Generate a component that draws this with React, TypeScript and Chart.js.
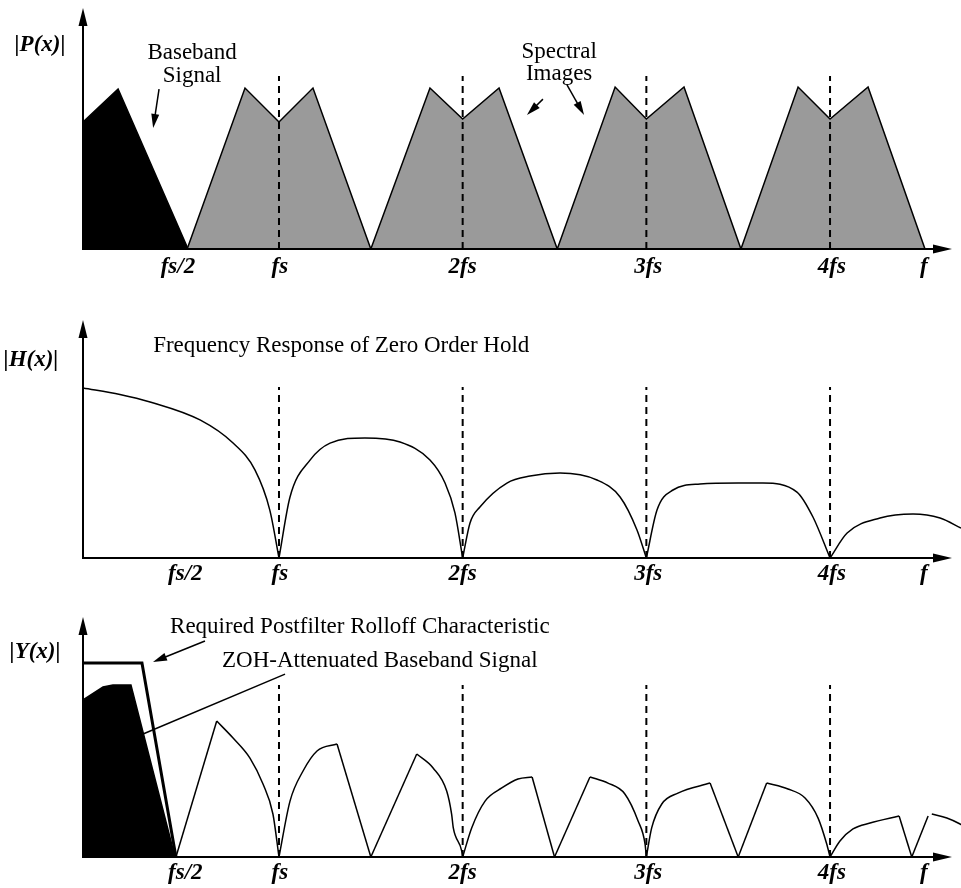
import React, { useEffect, useRef } from 'react';
import { Chart, registerables } from 'chart.js';
Chart.register(...registerables);

type P = [number, number];

// ---------- shared axis data (x in units of fs) ----------
const X_MIN = -0.067;
const X_MAX = 4.713;
const ARROW_X = 4.664;
const HARMONICS = [1, 2, 3, 4];
const TICK_LABELS = ['fs/2', 'fs', '2fs', '3fs', '4fs', 'f'];
const TICK_X_TOP = [0.45, 1.005, 2.0, 3.01, 4.01, 4.51];
const TICK_X = [0.49, 1.005, 2.0, 3.01, 4.01, 4.51];

// ---------- panel 1 : |P(x)| ----------
const P_BASEBAND: P[] = [[-0.067, 0.747], [0.124, 0.941], [0.505, 0]];
const P_IMAGES: P[] = [
  [0.5, 0], [0.815, 0.947], [1.0, 0.747], [1.185, 0.947], [1.5, 0],
  [1.822, 0.947], [2.0, 0.765], [2.198, 0.947], [2.515, 0],
  [2.83, 0.953], [3.0, 0.765], [3.205, 0.953], [3.515, 0],
  [3.826, 0.953], [4.0, 0.765], [4.207, 0.953], [4.517, 0],
];
const P_DASH_TOP = 1.018;

// ---------- panel 2 : |H(x)| ----------
const H_LOBE_0: P[] = [[-0.067, 1.0], [0.134, 0.962], [0.298, 0.918], [0.57, 0.812], [0.75, 0.676], [0.869, 0.518], [0.95, 0.282], [1.0, 0]];
const H_LOBE_1: P[] = [[1.0, 0], [1.06, 0.359], [1.169, 0.576], [1.278, 0.676], [1.468, 0.706], [1.659, 0.682], [1.822, 0.576], [1.904, 0.441], [1.958, 0.265], [2.0, 0]];
const H_LOBE_2: P[] = [[2.0, 0], [2.04, 0.206], [2.094, 0.3], [2.241, 0.441], [2.367, 0.482], [2.53, 0.5], [2.731, 0.459], [2.857, 0.359], [2.949, 0.165], [3.0, 0]];
const H_LOBE_3: P[] = [[3.0, 0], [3.058, 0.282], [3.145, 0.4], [3.292, 0.435], [3.5, 0.441], [3.635, 0.441], [3.82, 0.388], [3.907, 0.241], [4.0, 0]];
const H_LOBE_4: P[] = [[4.0, 0], [4.093, 0.147], [4.272, 0.235], [4.452, 0.259], [4.599, 0.235], [4.713, 0.176], [4.8, 0.13]];
const H_DASH_TOP = 1.006;

// ---------- panel 3 : |Y(x)| ----------
const Y_POSTFILTER: P[] = [[-0.067, 1.141], [0.254, 1.141], [0.439, 0]];
const Y_BASEBAND: P[] = [[-0.067, 0.924], [0.042, 1.0], [0.096, 1.012], [0.194, 1.012], [0.434, 0]];
const Y_RAMPS: P[][] = [
  [[0.439, 0], [0.661, 0.8]],
  [[1.316, 0.665], [1.5, 0]],
  [[1.5, 0], [1.75, 0.606]],
  [[2.378, 0.471], [2.5, 0]],
  [[2.5, 0], [2.693, 0.471]],
  [[3.347, 0.435], [3.5, 0]],
  [[3.5, 0], [3.655, 0.435]],
  [[4.376, 0.241], [4.445, 0]],
  [[4.445, 0], [4.534, 0.241]],
];
const Y_CURVES: P[][] = [
  [[0.661, 0.8], [0.75, 0.7], [0.842, 0.582], [0.913, 0.429], [0.967, 0.253], [1.0, 0]],
  [[1.0, 0], [1.06, 0.329], [1.131, 0.506], [1.207, 0.624], [1.316, 0.665]],
  [[1.75, 0.606], [1.839, 0.524], [1.913, 0.388], [1.94, 0.251], [1.949, 0.171], [1.995, 0.035], [2.0, 0]],
  [[2.0, 0], [2.049, 0.171], [2.122, 0.329], [2.213, 0.406], [2.301, 0.459], [2.378, 0.471]],
  [[2.693, 0.471], [2.791, 0.435], [2.883, 0.371], [2.955, 0.212], [2.993, 0.076], [3.0, 0]],
  [[3.0, 0], [3.029, 0.171], [3.084, 0.312], [3.172, 0.376], [3.347, 0.435]],
  [[3.655, 0.435], [3.771, 0.4], [3.864, 0.347], [3.935, 0.229], [3.982, 0.076], [4.0, 0]],
  [[4.0, 0], [4.054, 0.094], [4.125, 0.165], [4.218, 0.2], [4.376, 0.241]],
  [[4.554, 0.253], [4.636, 0.229], [4.708, 0.194], [4.76, 0.16]],
];
const Y_DASH_TOP = 1.012;

// ---------- styling ----------
const SERIF = '"Liberation Serif", "Times New Roman", serif';
const F_LABEL = `bold italic 23px ${SERIF}`;
const F_TEXT = `23px ${SERIF}`;

type Txt = { t: string; x: number; y: number; font: string; align: CanvasTextAlign };
type Arr = { x1: number; y1: number; x2: number; y2: number; head: boolean };
type PanelCfg = {
  height: number; padTop: number; padBottom: number; yMax: number;
  tickX: number[]; tickOffset: number; texts: Txt[]; arrows: Arr[];
  datasets: any[];
};

const pts = (p: P[]) => p.map(([x, y]) => ({ x, y }));
const line = (p: P[], o: any = {}) => ({
  data: pts(p), pointRadius: 0, borderColor: '#000', borderWidth: 1.5,
  fill: false, tension: 0, order: 2, ...o,
});
const dashed = (top: number) => HARMONICS.map((h) =>
  line([[h, 0], [h, top]], { borderDash: [7, 5], borderWidth: 2, order: 0 }));

const annotPlugin = (cfg: PanelCfg) => ({
  id: 'annot',
  afterDatasetsDraw(chart: any) {
    const ctx: CanvasRenderingContext2D = chart.ctx;
    const xs = chart.scales.x, ys = chart.scales.y;
    const { left, top } = chart.chartArea;
    const y0 = ys.getPixelForValue(0);
    ctx.save();
    ctx.strokeStyle = '#000'; ctx.fillStyle = '#000';
    // axes with arrows
    ctx.lineWidth = 2;
    const tipX = xs.getPixelForValue(ARROW_X);
    ctx.beginPath(); ctx.moveTo(left, y0); ctx.lineTo(tipX - 10, y0); ctx.stroke();
    ctx.beginPath(); ctx.moveTo(tipX, y0); ctx.lineTo(tipX - 19, y0 - 4.5); ctx.lineTo(tipX - 19, y0 + 4.5); ctx.closePath(); ctx.fill();
    ctx.beginPath(); ctx.moveTo(left, y0 + 1); ctx.lineTo(left, top + 10); ctx.stroke();
    ctx.beginPath(); ctx.moveTo(left, top); ctx.lineTo(left - 4.5, top + 18); ctx.lineTo(left + 4.5, top + 18); ctx.closePath(); ctx.fill();
    // tick labels
    ctx.font = F_LABEL; ctx.textAlign = 'center'; ctx.textBaseline = 'middle';
    cfg.tickX.forEach((v, i) => ctx.fillText(TICK_LABELS[i], xs.getPixelForValue(v), y0 + cfg.tickOffset));
    // texts
    cfg.texts.forEach((t) => {
      ctx.font = t.font; ctx.textAlign = t.align; ctx.textBaseline = 'middle';
      ctx.fillText(t.t, xs.getPixelForValue(t.x), ys.getPixelForValue(t.y));
    });
    // arrows
    ctx.lineWidth = 1.5;
    cfg.arrows.forEach((a) => {
      const x1 = xs.getPixelForValue(a.x1), y1 = ys.getPixelForValue(a.y1);
      const x2 = xs.getPixelForValue(a.x2), y2 = ys.getPixelForValue(a.y2);
      const ang = Math.atan2(y2 - y1, x2 - x1);
      const L = 14, W = 4;
      const ex = a.head ? x2 - Math.cos(ang) * (L - 2) : x2;
      const ey = a.head ? y2 - Math.sin(ang) * (L - 2) : y2;
      ctx.beginPath(); ctx.moveTo(x1, y1); ctx.lineTo(ex, ey); ctx.stroke();
      if (a.head) {
        const bx = x2 - Math.cos(ang) * L, by = y2 - Math.sin(ang) * L;
        ctx.beginPath();
        ctx.moveTo(x2, y2);
        ctx.lineTo(bx + Math.sin(ang) * W, by - Math.cos(ang) * W);
        ctx.lineTo(bx - Math.sin(ang) * W, by + Math.cos(ang) * W);
        ctx.closePath(); ctx.fill();
      }
    });
    ctx.restore();
  },
});

const PANELS: PanelCfg[] = [
  {
    height: 290, padTop: 8, padBottom: 41, yMax: 1.418, tickX: TICK_X_TOP, tickOffset: 18,
    texts: [
      { t: '|P(x)|', x: -0.301, y: 1.2, font: F_LABEL, align: 'center' },
      { t: 'Baseband', x: 0.527, y: 1.153, font: F_TEXT, align: 'center' },
      { t: 'Signal', x: 0.527, y: 1.018, font: F_TEXT, align: 'center' },
      { t: 'Spectral', x: 2.525, y: 1.159, font: F_TEXT, align: 'center' },
      { t: 'Images', x: 2.525, y: 1.029, font: F_TEXT, align: 'center' },
    ],
    arrows: [
      { x1: 0.347, y1: 0.941, x2: 0.315, y2: 0.712, head: true },
      { x1: 2.437, y1: 0.882, x2: 2.35, y2: 0.788, head: true },
      { x1: 2.568, y1: 0.965, x2: 2.661, y2: 0.788, head: true },
    ],
    datasets: [
      ...dashed(P_DASH_TOP),
      line(P_IMAGES, { fill: 'origin', backgroundColor: '#9a9a9a', order: 3 }),
      line(P_BASEBAND, { fill: 'origin', backgroundColor: '#000', order: 3 }),
    ],
  },
  {
    height: 300, padTop: 30, padBottom: 32, yMax: 1.4, tickX: TICK_X, tickOffset: 16,
    texts: [
      { t: '|H(x)|', x: -0.35, y: 1.165, font: F_LABEL, align: 'center' },
      { t: 'Frequency Response of Zero Order Hold', x: 0.315, y: 1.247, font: F_TEXT, align: 'left' },
    ],
    arrows: [],
    datasets: [
      ...dashed(H_DASH_TOP),
      ...[H_LOBE_0, H_LOBE_1, H_LOBE_2, H_LOBE_3, H_LOBE_4].map((l) =>
        line(l, { cubicInterpolationMode: 'monotone', tension: 0.4 })),
    ],
  },
  {
    height: 298, padTop: 27, padBottom: 31, yMax: 1.412, tickX: TICK_X, tickOffset: 16,
    texts: [
      { t: '|Y(x)|', x: -0.328, y: 1.206, font: F_LABEL, align: 'center' },
      { t: 'Required Postfilter Rolloff Characteristic', x: 0.407, y: 1.353, font: F_TEXT, align: 'left' },
      { t: 'ZOH-Attenuated Baseband Signal', x: 0.69, y: 1.153, font: F_TEXT, align: 'left' },
    ],
    arrows: [
      { x1: 0.597, y1: 1.271, x2: 0.314, y2: 1.147, head: true },
      { x1: 1.033, y1: 1.076, x2: 0.26, y2: 0.724, head: false },
    ],
    datasets: [
      ...dashed(Y_DASH_TOP),
      line(Y_POSTFILTER, { borderWidth: 3, order: 1 }),
      line(Y_BASEBAND, { fill: 'origin', backgroundColor: '#000', order: 3 }),
      ...Y_RAMPS.map((r) => line(r)),
      ...Y_CURVES.map((c) => line(c, { cubicInterpolationMode: 'monotone', tension: 0.4 })),
    ],
  },
];

function Panel({ cfg }: { cfg: PanelCfg }) {
  const ref = useRef<HTMLCanvasElement | null>(null);
  useEffect(() => {
    if (!ref.current) return;
    const chart = new Chart(ref.current, {
      type: 'line',
      data: { datasets: cfg.datasets },
      options: {
        responsive: false,
        animation: false,
        events: [],
        layout: { padding: { left: 83, right: 0, top: cfg.padTop, bottom: cfg.padBottom } },
        plugins: { legend: { display: false }, tooltip: { enabled: false } },
        scales: {
          x: { type: 'linear', min: X_MIN, max: X_MAX, display: false },
          y: { type: 'linear', min: 0, max: cfg.yMax, display: false },
        },
      },
      plugins: [annotPlugin(cfg)],
    } as any);
    return () => chart.destroy();
  }, [cfg]);
  return <canvas ref={ref} width={961} height={cfg.height} style={{ display: 'block' }} />;
}

export default function App() {
  return (
    <div style={{ position: 'absolute', left: 0, top: 0, width: 961, height: 888, background: '#fff' }}>
      {PANELS.map((p, i) => <Panel key={i} cfg={p} />)}
    </div>
  );
}
